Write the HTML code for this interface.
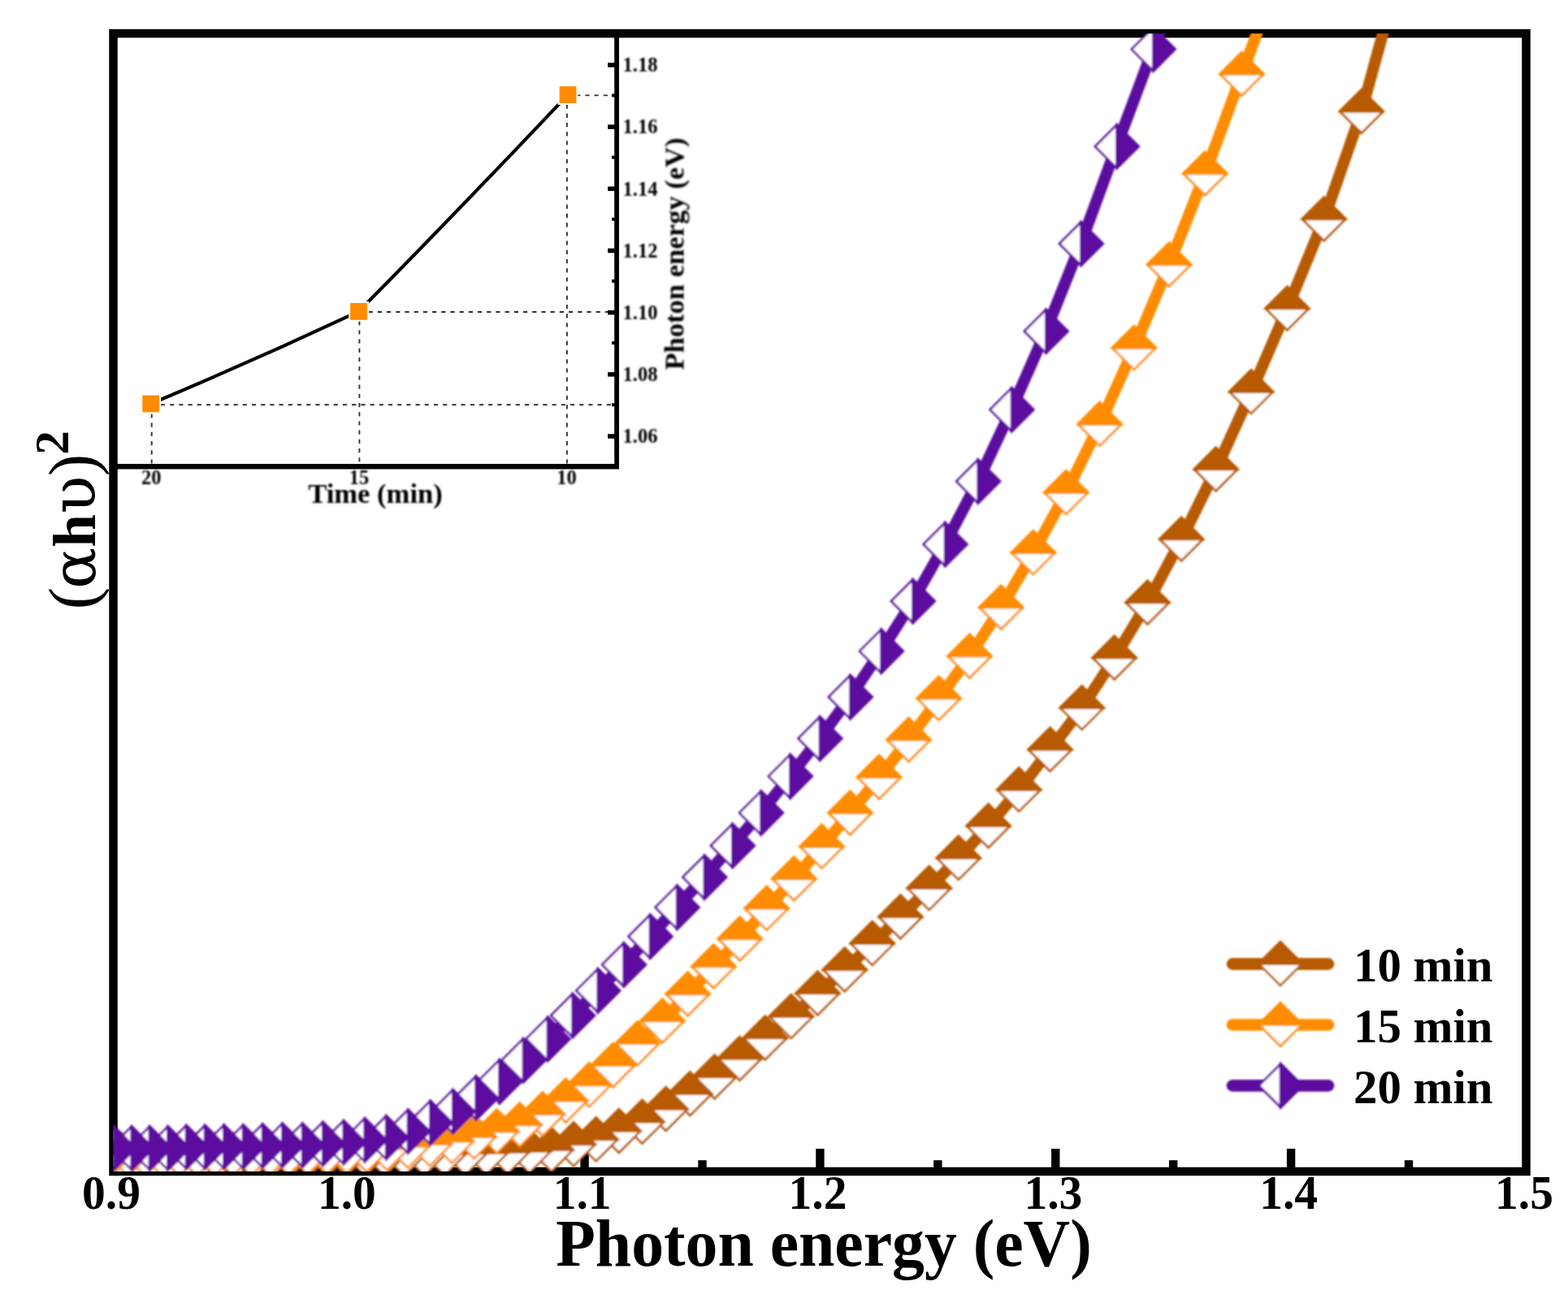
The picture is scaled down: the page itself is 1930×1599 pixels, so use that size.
<!DOCTYPE html>
<html lang="en"><head><meta charset="utf-8"><title>Tauc plot</title>
<style>
html,body{margin:0;padding:0;background:#fff}
body{width:1930px;height:1599px;overflow:hidden}
svg{display:block}
.t text{font-family:"Liberation Serif","DejaVu Serif",serif;font-weight:700;fill:#000}
</style></head><body>
<svg width="1930" height="1599" viewBox="0 0 1930 1599" role="img" aria-label="Tauc plot">
<defs>
<clipPath id="c"><rect x="139.5" y="41.2" width="1739.0" height="1400.8"/></clipPath>
<filter id="b1" x="0" y="0" width="1930" height="1599" filterUnits="userSpaceOnUse"><feGaussianBlur stdDeviation="1.0"/></filter>
<filter id="b2" x="0" y="0" width="1930" height="1599" filterUnits="userSpaceOnUse"><feGaussianBlur stdDeviation="0.7"/></filter>
<filter id="b3" x="0" y="0" width="900" height="700" filterUnits="userSpaceOnUse"><feGaussianBlur stdDeviation="0.9"/></filter>
</defs>
<rect width="1930" height="1599" fill="#fff"/>
<g id="axes" filter="url(#b2)">
<rect x="139.5" y="41.2" width="1739.0" height="1400.8" fill="none" stroke="#000" stroke-width="10.5"/>
<path d="M186.7 498.2V574.2" stroke="#333" stroke-width="1.9" stroke-dasharray="5.2 6" fill="none"/>
<path d="M186.7 498.2H759.1" stroke="#333" stroke-width="1.9" stroke-dasharray="5.2 6" fill="none"/>
<path d="M442.4 384V574.2" stroke="#333" stroke-width="1.9" stroke-dasharray="5.2 6" fill="none"/>
<path d="M442.4 384H759.1" stroke="#333" stroke-width="1.9" stroke-dasharray="5.2 6" fill="none"/>
<path d="M697.9 117.4V574.2" stroke="#333" stroke-width="1.9" stroke-dasharray="5.2 6" fill="none"/>
<path d="M697.9 117.4H759.1" stroke="#333" stroke-width="1.9" stroke-dasharray="5.2 6" fill="none"/>
<path d="M185.7 497.0Q314.8 442.9 441.5 383.4Q571.7 251.4 699.0 116.6" fill="none" stroke="#000" stroke-width="4.2"/>
<rect x="173.3" y="484.6" width="24.8" height="24.8" fill="#fff"/>
<rect x="175.3" y="486.6" width="20.8" height="20.8" fill="#FF8C00"/>
<rect x="429.1" y="371" width="24.8" height="24.8" fill="#fff"/>
<rect x="431.1" y="373" width="20.8" height="20.8" fill="#FF8C00"/>
<rect x="686.6" y="104.2" width="24.8" height="24.8" fill="#fff"/>
<rect x="688.6" y="106.2" width="20.8" height="20.8" fill="#FF8C00"/>
<path d="M139.5 574.2H762" stroke="#000" stroke-width="6.6" fill="none"/>
<path d="M759.1 41.2V577.1" stroke="#000" stroke-width="5.8" fill="none"/>
<path d="M748.1 537.02H759.1" stroke="#000" stroke-width="5.5"/>
<path d="M748.1 460.85H759.1" stroke="#000" stroke-width="5.5"/>
<path d="M748.1 384.68H759.1" stroke="#000" stroke-width="5.5"/>
<path d="M748.1 308.51H759.1" stroke="#000" stroke-width="5.5"/>
<path d="M748.1 232.34H759.1" stroke="#000" stroke-width="5.5"/>
<path d="M748.1 156.17H759.1" stroke="#000" stroke-width="5.5"/>
<path d="M748.1 80H759.1" stroke="#000" stroke-width="5.5"/>
<path d="M753.1 574.5H759.1" stroke="#000" stroke-width="4"/>
<path d="M753.1 498.33H759.1" stroke="#000" stroke-width="4"/>
<path d="M753.1 422.16H759.1" stroke="#000" stroke-width="4"/>
<path d="M753.1 345.99H759.1" stroke="#000" stroke-width="4"/>
<path d="M753.1 269.82H759.1" stroke="#000" stroke-width="4"/>
<path d="M753.1 193.65H759.1" stroke="#000" stroke-width="4"/>
<path d="M753.1 117.49H759.1" stroke="#000" stroke-width="4"/>
<path d="M429.73 1442.0V1414" stroke="#000" stroke-width="10.4"/>
<path d="M719.57 1442.0V1414" stroke="#000" stroke-width="10.4"/>
<path d="M1009.4 1442.0V1414" stroke="#000" stroke-width="10.4"/>
<path d="M1299.23 1442.0V1414" stroke="#000" stroke-width="10.4"/>
<path d="M1589.07 1442.0V1414" stroke="#000" stroke-width="10.4"/>
<path d="M284.82 1442.0V1428.2" stroke="#000" stroke-width="10.4"/>
<path d="M574.65 1442.0V1428.2" stroke="#000" stroke-width="10.4"/>
<path d="M864.48 1442.0V1428.2" stroke="#000" stroke-width="10.4"/>
<path d="M1154.32 1442.0V1428.2" stroke="#000" stroke-width="10.4"/>
<path d="M1444.15 1442.0V1428.2" stroke="#000" stroke-width="10.4"/>
<path d="M1733.98 1442.0V1428.2" stroke="#000" stroke-width="10.4"/>
</g>
<g id="curves" clip-path="url(#c)" filter="url(#b1)">
<polyline fill="none" stroke="#B85A00" stroke-width="14.2" stroke-linejoin="round" points="90.12,1421.5 109.76,1421.5 129.39,1421.5 149.08,1421.5 168.89,1421.5 188.92,1421.49 209.15,1421.49 229.62,1421.49 250.34,1421.49 271.3,1421.48 292.54,1421.47 314.05,1421.46 335.86,1421.45 357.97,1421.42 380.4,1421.39 403.16,1421.35 426.26,1421.29 449.71,1421.21 473.54,1421.1 497.74,1420.94 522.33,1420.72 547.33,1420.4 572.74,1419.97 598.59,1419.37 624.87,1418.52 651.61,1417.34 678.82,1415.7 706.02,1408.9 733.68,1402.9 761.83,1392.5 790.47,1381.2 819.62,1365.5 849.31,1346.7 879.56,1326 910.38,1303.5 941.79,1278 973.81,1251.6 1006.46,1223 1039.75,1194 1073.72,1161.6 1108.36,1129 1143.72,1093.6 1179.79,1056.4 1216.6,1017 1254.18,972.4 1292.53,923 1331.68,871.6 1371.64,810 1412.44,742 1454.1,664 1496.62,578 1540.04,482.6 1584.36,380 1629.61,270 1675.81,137.5 1726,-46"/>
<path d="M1649.51 137.5L1675.81 111.2L1702.11 137.5L1675.81 163.8Z" fill="#fff" stroke="#B85A00" stroke-width="2.7"/><path d="M1646.51 137.5L1675.81 108.2L1705.11 137.5L1703.81 138.8H1647.81Z" fill="#B85A00"/>
<path d="M1603.31 270L1629.61 243.7L1655.91 270L1629.61 296.3Z" fill="#fff" stroke="#B85A00" stroke-width="2.7"/><path d="M1600.31 270L1629.61 240.7L1658.91 270L1657.61 271.3H1601.61Z" fill="#B85A00"/>
<path d="M1558.06 380L1584.36 353.7L1610.66 380L1584.36 406.3Z" fill="#fff" stroke="#B85A00" stroke-width="2.7"/><path d="M1555.06 380L1584.36 350.7L1613.66 380L1612.36 381.3H1556.36Z" fill="#B85A00"/>
<path d="M1513.74 482.6L1540.04 456.3L1566.34 482.6L1540.04 508.9Z" fill="#fff" stroke="#B85A00" stroke-width="2.7"/><path d="M1510.74 482.6L1540.04 453.3L1569.34 482.6L1568.04 483.9H1512.04Z" fill="#B85A00"/>
<path d="M1470.32 578L1496.62 551.7L1522.92 578L1496.62 604.3Z" fill="#fff" stroke="#B85A00" stroke-width="2.7"/><path d="M1467.32 578L1496.62 548.7L1525.92 578L1524.62 579.3H1468.62Z" fill="#B85A00"/>
<path d="M1427.8 664L1454.1 637.7L1480.4 664L1454.1 690.3Z" fill="#fff" stroke="#B85A00" stroke-width="2.7"/><path d="M1424.8 664L1454.1 634.7L1483.4 664L1482.1 665.3H1426.1Z" fill="#B85A00"/>
<path d="M1386.14 742L1412.44 715.7L1438.74 742L1412.44 768.3Z" fill="#fff" stroke="#B85A00" stroke-width="2.7"/><path d="M1383.14 742L1412.44 712.7L1441.74 742L1440.44 743.3H1384.44Z" fill="#B85A00"/>
<path d="M1345.34 810L1371.64 783.7L1397.94 810L1371.64 836.3Z" fill="#fff" stroke="#B85A00" stroke-width="2.7"/><path d="M1342.34 810L1371.64 780.7L1400.94 810L1399.64 811.3H1343.64Z" fill="#B85A00"/>
<path d="M1305.38 871.6L1331.68 845.3L1357.98 871.6L1331.68 897.9Z" fill="#fff" stroke="#B85A00" stroke-width="2.7"/><path d="M1302.38 871.6L1331.68 842.3L1360.98 871.6L1359.68 872.9H1303.68Z" fill="#B85A00"/>
<path d="M1266.23 923L1292.53 896.7L1318.83 923L1292.53 949.3Z" fill="#fff" stroke="#B85A00" stroke-width="2.7"/><path d="M1263.23 923L1292.53 893.7L1321.83 923L1320.53 924.3H1264.53Z" fill="#B85A00"/>
<path d="M1227.88 972.4L1254.18 946.1L1280.48 972.4L1254.18 998.7Z" fill="#fff" stroke="#B85A00" stroke-width="2.7"/><path d="M1224.88 972.4L1254.18 943.1L1283.48 972.4L1282.18 973.7H1226.18Z" fill="#B85A00"/>
<path d="M1190.3 1017L1216.6 990.7L1242.9 1017L1216.6 1043.3Z" fill="#fff" stroke="#B85A00" stroke-width="2.7"/><path d="M1187.3 1017L1216.6 987.7L1245.9 1017L1244.6 1018.3H1188.6Z" fill="#B85A00"/>
<path d="M1153.49 1056.4L1179.79 1030.1L1206.09 1056.4L1179.79 1082.7Z" fill="#fff" stroke="#B85A00" stroke-width="2.7"/><path d="M1150.49 1056.4L1179.79 1027.1L1209.09 1056.4L1207.79 1057.7H1151.79Z" fill="#B85A00"/>
<path d="M1117.42 1093.6L1143.72 1067.3L1170.02 1093.6L1143.72 1119.9Z" fill="#fff" stroke="#B85A00" stroke-width="2.7"/><path d="M1114.42 1093.6L1143.72 1064.3L1173.02 1093.6L1171.72 1094.9H1115.72Z" fill="#B85A00"/>
<path d="M1082.06 1129L1108.36 1102.7L1134.66 1129L1108.36 1155.3Z" fill="#fff" stroke="#B85A00" stroke-width="2.7"/><path d="M1079.06 1129L1108.36 1099.7L1137.66 1129L1136.36 1130.3H1080.36Z" fill="#B85A00"/>
<path d="M1047.42 1161.6L1073.72 1135.3L1100.02 1161.6L1073.72 1187.9Z" fill="#fff" stroke="#B85A00" stroke-width="2.7"/><path d="M1044.42 1161.6L1073.72 1132.3L1103.02 1161.6L1101.72 1162.9H1045.72Z" fill="#B85A00"/>
<path d="M1013.45 1194L1039.75 1167.7L1066.05 1194L1039.75 1220.3Z" fill="#fff" stroke="#B85A00" stroke-width="2.7"/><path d="M1010.45 1194L1039.75 1164.7L1069.05 1194L1067.75 1195.3H1011.75Z" fill="#B85A00"/>
<path d="M980.16 1223L1006.46 1196.7L1032.76 1223L1006.46 1249.3Z" fill="#fff" stroke="#B85A00" stroke-width="2.7"/><path d="M977.16 1223L1006.46 1193.7L1035.76 1223L1034.46 1224.3H978.46Z" fill="#B85A00"/>
<path d="M947.51 1251.6L973.81 1225.3L1000.11 1251.6L973.81 1277.9Z" fill="#fff" stroke="#B85A00" stroke-width="2.7"/><path d="M944.51 1251.6L973.81 1222.3L1003.11 1251.6L1001.81 1252.9H945.81Z" fill="#B85A00"/>
<path d="M915.49 1278L941.79 1251.7L968.09 1278L941.79 1304.3Z" fill="#fff" stroke="#B85A00" stroke-width="2.7"/><path d="M912.49 1278L941.79 1248.7L971.09 1278L969.79 1279.3H913.79Z" fill="#B85A00"/>
<path d="M884.08 1303.5L910.38 1277.2L936.68 1303.5L910.38 1329.8Z" fill="#fff" stroke="#B85A00" stroke-width="2.7"/><path d="M881.08 1303.5L910.38 1274.2L939.68 1303.5L938.38 1304.8H882.38Z" fill="#B85A00"/>
<path d="M853.26 1326L879.56 1299.7L905.86 1326L879.56 1352.3Z" fill="#fff" stroke="#B85A00" stroke-width="2.7"/><path d="M850.26 1326L879.56 1296.7L908.86 1326L907.56 1327.3H851.56Z" fill="#B85A00"/>
<path d="M823.01 1346.7L849.31 1320.4L875.61 1346.7L849.31 1373Z" fill="#fff" stroke="#B85A00" stroke-width="2.7"/><path d="M820.01 1346.7L849.31 1317.4L878.61 1346.7L877.31 1348H821.31Z" fill="#B85A00"/>
<path d="M793.32 1365.5L819.62 1339.2L845.92 1365.5L819.62 1391.8Z" fill="#fff" stroke="#B85A00" stroke-width="2.7"/><path d="M790.32 1365.5L819.62 1336.2L848.92 1365.5L847.62 1366.8H791.62Z" fill="#B85A00"/>
<path d="M764.17 1381.2L790.47 1354.9L816.77 1381.2L790.47 1407.5Z" fill="#fff" stroke="#B85A00" stroke-width="2.7"/><path d="M761.17 1381.2L790.47 1351.9L819.77 1381.2L818.47 1382.5H762.47Z" fill="#B85A00"/>
<path d="M735.53 1392.5L761.83 1366.2L788.13 1392.5L761.83 1418.8Z" fill="#fff" stroke="#B85A00" stroke-width="2.7"/><path d="M732.53 1392.5L761.83 1363.2L791.13 1392.5L789.83 1393.8H733.83Z" fill="#B85A00"/>
<path d="M707.38 1402.9L733.68 1376.6L759.98 1402.9L733.68 1429.2Z" fill="#fff" stroke="#B85A00" stroke-width="2.7"/><path d="M704.38 1402.9L733.68 1373.6L762.98 1402.9L761.68 1404.2H705.68Z" fill="#B85A00"/>
<path d="M679.72 1408.9L706.02 1382.6L732.32 1408.9L706.02 1435.2Z" fill="#fff" stroke="#B85A00" stroke-width="2.7"/><path d="M676.72 1408.9L706.02 1379.6L735.32 1408.9L734.02 1410.2H678.02Z" fill="#B85A00"/>
<path d="M652.52 1415.7L678.82 1389.4L705.12 1415.7L678.82 1442Z" fill="#fff" stroke="#B85A00" stroke-width="2.7"/><path d="M649.52 1415.7L678.82 1386.4L708.12 1415.7L706.82 1417H650.82Z" fill="#B85A00"/>
<path d="M625.31 1417.34L651.61 1391.04L677.91 1417.34L651.61 1443.64Z" fill="#fff" stroke="#B85A00" stroke-width="2.7"/><path d="M622.31 1417.34L651.61 1388.04L680.91 1417.34L679.61 1418.64H623.61Z" fill="#B85A00"/>
<path d="M598.57 1418.52L624.87 1392.22L651.17 1418.52L624.87 1444.82Z" fill="#fff" stroke="#B85A00" stroke-width="2.7"/><path d="M595.57 1418.52L624.87 1389.22L654.17 1418.52L652.87 1419.82H596.87Z" fill="#B85A00"/>
<path d="M572.29 1419.37L598.59 1393.07L624.89 1419.37L598.59 1445.67Z" fill="#fff" stroke="#B85A00" stroke-width="2.7"/><path d="M569.29 1419.37L598.59 1390.07L627.89 1419.37L626.59 1420.67H570.59Z" fill="#B85A00"/>
<path d="M546.44 1419.97L572.74 1393.67L599.04 1419.97L572.74 1446.27Z" fill="#fff" stroke="#B85A00" stroke-width="2.7"/><path d="M543.44 1419.97L572.74 1390.67L602.04 1419.97L600.74 1421.27H544.74Z" fill="#B85A00"/>
<path d="M521.03 1420.4L547.33 1394.1L573.63 1420.4L547.33 1446.7Z" fill="#fff" stroke="#B85A00" stroke-width="2.7"/><path d="M518.03 1420.4L547.33 1391.1L576.63 1420.4L575.33 1421.7H519.33Z" fill="#B85A00"/>
<path d="M496.03 1420.72L522.33 1394.42L548.63 1420.72L522.33 1447.02Z" fill="#fff" stroke="#B85A00" stroke-width="2.7"/><path d="M493.03 1420.72L522.33 1391.42L551.63 1420.72L550.33 1422.02H494.33Z" fill="#B85A00"/>
<path d="M471.44 1420.94L497.74 1394.64L524.04 1420.94L497.74 1447.24Z" fill="#fff" stroke="#B85A00" stroke-width="2.7"/><path d="M468.44 1420.94L497.74 1391.64L527.04 1420.94L525.74 1422.24H469.74Z" fill="#B85A00"/>
<path d="M447.24 1421.1L473.54 1394.8L499.84 1421.1L473.54 1447.4Z" fill="#fff" stroke="#B85A00" stroke-width="2.7"/><path d="M444.24 1421.1L473.54 1391.8L502.84 1421.1L501.54 1422.4H445.54Z" fill="#B85A00"/>
<path d="M423.41 1421.21L449.71 1394.91L476.01 1421.21L449.71 1447.51Z" fill="#fff" stroke="#B85A00" stroke-width="2.7"/><path d="M420.41 1421.21L449.71 1391.91L479.01 1421.21L477.71 1422.51H421.71Z" fill="#B85A00"/>
<path d="M399.96 1421.29L426.26 1394.99L452.56 1421.29L426.26 1447.59Z" fill="#fff" stroke="#B85A00" stroke-width="2.7"/><path d="M396.96 1421.29L426.26 1391.99L455.56 1421.29L454.26 1422.59H398.26Z" fill="#B85A00"/>
<path d="M376.86 1421.35L403.16 1395.05L429.46 1421.35L403.16 1447.65Z" fill="#fff" stroke="#B85A00" stroke-width="2.7"/><path d="M373.86 1421.35L403.16 1392.05L432.46 1421.35L431.16 1422.65H375.16Z" fill="#B85A00"/>
<path d="M354.1 1421.39L380.4 1395.09L406.7 1421.39L380.4 1447.69Z" fill="#fff" stroke="#B85A00" stroke-width="2.7"/><path d="M351.1 1421.39L380.4 1392.09L409.7 1421.39L408.4 1422.69H352.4Z" fill="#B85A00"/>
<path d="M331.67 1421.42L357.97 1395.12L384.27 1421.42L357.97 1447.72Z" fill="#fff" stroke="#B85A00" stroke-width="2.7"/><path d="M328.67 1421.42L357.97 1392.12L387.27 1421.42L385.97 1422.72H329.97Z" fill="#B85A00"/>
<path d="M309.56 1421.45L335.86 1395.15L362.16 1421.45L335.86 1447.75Z" fill="#fff" stroke="#B85A00" stroke-width="2.7"/><path d="M306.56 1421.45L335.86 1392.15L365.16 1421.45L363.86 1422.75H307.86Z" fill="#B85A00"/>
<path d="M287.75 1421.46L314.05 1395.16L340.35 1421.46L314.05 1447.76Z" fill="#fff" stroke="#B85A00" stroke-width="2.7"/><path d="M284.75 1421.46L314.05 1392.16L343.35 1421.46L342.05 1422.76H286.05Z" fill="#B85A00"/>
<path d="M266.24 1421.47L292.54 1395.17L318.84 1421.47L292.54 1447.77Z" fill="#fff" stroke="#B85A00" stroke-width="2.7"/><path d="M263.24 1421.47L292.54 1392.17L321.84 1421.47L320.54 1422.77H264.54Z" fill="#B85A00"/>
<path d="M245 1421.48L271.3 1395.18L297.6 1421.48L271.3 1447.78Z" fill="#fff" stroke="#B85A00" stroke-width="2.7"/><path d="M242 1421.48L271.3 1392.18L300.6 1421.48L299.3 1422.78H243.3Z" fill="#B85A00"/>
<path d="M224.04 1421.49L250.34 1395.19L276.64 1421.49L250.34 1447.79Z" fill="#fff" stroke="#B85A00" stroke-width="2.7"/><path d="M221.04 1421.49L250.34 1392.19L279.64 1421.49L278.34 1422.79H222.34Z" fill="#B85A00"/>
<path d="M203.32 1421.49L229.62 1395.19L255.92 1421.49L229.62 1447.79Z" fill="#fff" stroke="#B85A00" stroke-width="2.7"/><path d="M200.32 1421.49L229.62 1392.19L258.92 1421.49L257.62 1422.79H201.62Z" fill="#B85A00"/>
<path d="M182.85 1421.49L209.15 1395.19L235.45 1421.49L209.15 1447.79Z" fill="#fff" stroke="#B85A00" stroke-width="2.7"/><path d="M179.85 1421.49L209.15 1392.19L238.45 1421.49L237.15 1422.79H181.15Z" fill="#B85A00"/>
<path d="M162.62 1421.49L188.92 1395.19L215.22 1421.49L188.92 1447.79Z" fill="#fff" stroke="#B85A00" stroke-width="2.7"/><path d="M159.62 1421.49L188.92 1392.19L218.22 1421.49L216.92 1422.79H160.92Z" fill="#B85A00"/>
<path d="M142.59 1421.5L168.89 1395.2L195.19 1421.5L168.89 1447.8Z" fill="#fff" stroke="#B85A00" stroke-width="2.7"/><path d="M139.59 1421.5L168.89 1392.2L198.19 1421.5L196.89 1422.8H140.89Z" fill="#B85A00"/>
<path d="M122.78 1421.5L149.08 1395.2L175.38 1421.5L149.08 1447.8Z" fill="#fff" stroke="#B85A00" stroke-width="2.7"/><path d="M119.78 1421.5L149.08 1392.2L178.38 1421.5L177.08 1422.8H121.08Z" fill="#B85A00"/>
<path d="M103.09 1421.5L129.39 1395.2L155.69 1421.5L129.39 1447.8Z" fill="#fff" stroke="#B85A00" stroke-width="2.7"/><path d="M100.09 1421.5L129.39 1392.2L158.69 1421.5L157.39 1422.8H101.39Z" fill="#B85A00"/>
<path d="M83.46 1421.5L109.76 1395.2L136.06 1421.5L109.76 1447.8Z" fill="#fff" stroke="#B85A00" stroke-width="2.7"/><path d="M80.46 1421.5L109.76 1392.2L139.06 1421.5L137.76 1422.8H81.76Z" fill="#B85A00"/>
<path d="M63.82 1421.5L90.12 1395.2L116.42 1421.5L90.12 1447.8Z" fill="#fff" stroke="#B85A00" stroke-width="2.7"/><path d="M60.82 1421.5L90.12 1392.2L119.42 1421.5L118.12 1422.8H62.12Z" fill="#B85A00"/>
<polyline fill="none" stroke="#FF8C00" stroke-width="14.2" stroke-linejoin="round" points="95.63,1421.28 116.25,1421.27 136.87,1421.25 157.58,1421.23 178.48,1421.21 199.6,1421.17 220.98,1421.12 242.62,1421.04 264.53,1420.94 286.73,1420.8 309.23,1420.61 332.06,1420.33 355.21,1419.95 378.72,1419.41 402.58,1418.66 426.83,1417.62 451.46,1416.17 476.5,1414.13 501.96,1411.3 528.94,1408.8 556.19,1405.3 583.7,1399.8 611.53,1393.1 639.69,1385 667.94,1371.78 696.37,1355.27 725.2,1335.86 754.47,1311.74 784.6,1284.8 815.32,1257 846.56,1224 878.34,1190 910.7,1156 943.66,1118.4 977.25,1082 1011.49,1042.4 1046.42,1001 1082.05,957 1118.42,911 1155.55,860 1193.47,808 1232.21,748 1271.79,680.6 1312.23,606.6 1353.58,522.4 1395.85,428.6 1439.07,326 1483.27,214 1528.47,91.5 1578,-43"/>
<path d="M1502.17 91.5L1528.47 65.2L1554.77 91.5L1528.47 117.8Z" fill="#fff" stroke="#FF8C00" stroke-width="2.7"/><path d="M1499.17 91.5L1528.47 62.2L1557.77 91.5L1556.47 92.8H1500.47Z" fill="#FF8C00"/>
<path d="M1456.97 214L1483.27 187.7L1509.57 214L1483.27 240.3Z" fill="#fff" stroke="#FF8C00" stroke-width="2.7"/><path d="M1453.97 214L1483.27 184.7L1512.57 214L1511.27 215.3H1455.27Z" fill="#FF8C00"/>
<path d="M1412.77 326L1439.07 299.7L1465.37 326L1439.07 352.3Z" fill="#fff" stroke="#FF8C00" stroke-width="2.7"/><path d="M1409.77 326L1439.07 296.7L1468.37 326L1467.07 327.3H1411.07Z" fill="#FF8C00"/>
<path d="M1369.55 428.6L1395.85 402.3L1422.15 428.6L1395.85 454.9Z" fill="#fff" stroke="#FF8C00" stroke-width="2.7"/><path d="M1366.55 428.6L1395.85 399.3L1425.15 428.6L1423.85 429.9H1367.85Z" fill="#FF8C00"/>
<path d="M1327.28 522.4L1353.58 496.1L1379.88 522.4L1353.58 548.7Z" fill="#fff" stroke="#FF8C00" stroke-width="2.7"/><path d="M1324.28 522.4L1353.58 493.1L1382.88 522.4L1381.58 523.7H1325.58Z" fill="#FF8C00"/>
<path d="M1285.93 606.6L1312.23 580.3L1338.53 606.6L1312.23 632.9Z" fill="#fff" stroke="#FF8C00" stroke-width="2.7"/><path d="M1282.93 606.6L1312.23 577.3L1341.53 606.6L1340.23 607.9H1284.23Z" fill="#FF8C00"/>
<path d="M1245.49 680.6L1271.79 654.3L1298.09 680.6L1271.79 706.9Z" fill="#fff" stroke="#FF8C00" stroke-width="2.7"/><path d="M1242.49 680.6L1271.79 651.3L1301.09 680.6L1299.79 681.9H1243.79Z" fill="#FF8C00"/>
<path d="M1205.91 748L1232.21 721.7L1258.51 748L1232.21 774.3Z" fill="#fff" stroke="#FF8C00" stroke-width="2.7"/><path d="M1202.91 748L1232.21 718.7L1261.51 748L1260.21 749.3H1204.21Z" fill="#FF8C00"/>
<path d="M1167.17 808L1193.47 781.7L1219.77 808L1193.47 834.3Z" fill="#fff" stroke="#FF8C00" stroke-width="2.7"/><path d="M1164.17 808L1193.47 778.7L1222.77 808L1221.47 809.3H1165.47Z" fill="#FF8C00"/>
<path d="M1129.25 860L1155.55 833.7L1181.85 860L1155.55 886.3Z" fill="#fff" stroke="#FF8C00" stroke-width="2.7"/><path d="M1126.25 860L1155.55 830.7L1184.85 860L1183.55 861.3H1127.55Z" fill="#FF8C00"/>
<path d="M1092.12 911L1118.42 884.7L1144.72 911L1118.42 937.3Z" fill="#fff" stroke="#FF8C00" stroke-width="2.7"/><path d="M1089.12 911L1118.42 881.7L1147.72 911L1146.42 912.3H1090.42Z" fill="#FF8C00"/>
<path d="M1055.75 957L1082.05 930.7L1108.35 957L1082.05 983.3Z" fill="#fff" stroke="#FF8C00" stroke-width="2.7"/><path d="M1052.75 957L1082.05 927.7L1111.35 957L1110.05 958.3H1054.05Z" fill="#FF8C00"/>
<path d="M1020.12 1001L1046.42 974.7L1072.72 1001L1046.42 1027.3Z" fill="#fff" stroke="#FF8C00" stroke-width="2.7"/><path d="M1017.12 1001L1046.42 971.7L1075.72 1001L1074.42 1002.3H1018.42Z" fill="#FF8C00"/>
<path d="M985.19 1042.4L1011.49 1016.1L1037.79 1042.4L1011.49 1068.7Z" fill="#fff" stroke="#FF8C00" stroke-width="2.7"/><path d="M982.19 1042.4L1011.49 1013.1L1040.79 1042.4L1039.49 1043.7H983.49Z" fill="#FF8C00"/>
<path d="M950.95 1082L977.25 1055.7L1003.55 1082L977.25 1108.3Z" fill="#fff" stroke="#FF8C00" stroke-width="2.7"/><path d="M947.95 1082L977.25 1052.7L1006.55 1082L1005.25 1083.3H949.25Z" fill="#FF8C00"/>
<path d="M917.36 1118.4L943.66 1092.1L969.96 1118.4L943.66 1144.7Z" fill="#fff" stroke="#FF8C00" stroke-width="2.7"/><path d="M914.36 1118.4L943.66 1089.1L972.96 1118.4L971.66 1119.7H915.66Z" fill="#FF8C00"/>
<path d="M884.4 1156L910.7 1129.7L937 1156L910.7 1182.3Z" fill="#fff" stroke="#FF8C00" stroke-width="2.7"/><path d="M881.4 1156L910.7 1126.7L940 1156L938.7 1157.3H882.7Z" fill="#FF8C00"/>
<path d="M852.04 1190L878.34 1163.7L904.64 1190L878.34 1216.3Z" fill="#fff" stroke="#FF8C00" stroke-width="2.7"/><path d="M849.04 1190L878.34 1160.7L907.64 1190L906.34 1191.3H850.34Z" fill="#FF8C00"/>
<path d="M820.26 1224L846.56 1197.7L872.86 1224L846.56 1250.3Z" fill="#fff" stroke="#FF8C00" stroke-width="2.7"/><path d="M817.26 1224L846.56 1194.7L875.86 1224L874.56 1225.3H818.56Z" fill="#FF8C00"/>
<path d="M789.02 1257L815.32 1230.7L841.62 1257L815.32 1283.3Z" fill="#fff" stroke="#FF8C00" stroke-width="2.7"/><path d="M786.02 1257L815.32 1227.7L844.62 1257L843.32 1258.3H787.32Z" fill="#FF8C00"/>
<path d="M758.3 1284.8L784.6 1258.5L810.9 1284.8L784.6 1311.1Z" fill="#fff" stroke="#FF8C00" stroke-width="2.7"/><path d="M755.3 1284.8L784.6 1255.5L813.9 1284.8L812.6 1286.1H756.6Z" fill="#FF8C00"/>
<path d="M728.17 1311.74L754.47 1285.44L780.77 1311.74L754.47 1338.04Z" fill="#fff" stroke="#FF8C00" stroke-width="2.7"/><path d="M725.17 1311.74L754.47 1282.44L783.77 1311.74L782.47 1313.04H726.47Z" fill="#FF8C00"/>
<path d="M698.9 1335.86L725.2 1309.56L751.5 1335.86L725.2 1362.16Z" fill="#fff" stroke="#FF8C00" stroke-width="2.7"/><path d="M695.9 1335.86L725.2 1306.56L754.5 1335.86L753.2 1337.16H697.2Z" fill="#FF8C00"/>
<path d="M670.07 1355.27L696.37 1328.97L722.67 1355.27L696.37 1381.57Z" fill="#fff" stroke="#FF8C00" stroke-width="2.7"/><path d="M667.07 1355.27L696.37 1325.97L725.67 1355.27L724.37 1356.57H668.37Z" fill="#FF8C00"/>
<path d="M641.64 1371.78L667.94 1345.48L694.24 1371.78L667.94 1398.08Z" fill="#fff" stroke="#FF8C00" stroke-width="2.7"/><path d="M638.64 1371.78L667.94 1342.48L697.24 1371.78L695.94 1373.08H639.94Z" fill="#FF8C00"/>
<path d="M613.39 1385L639.69 1358.7L665.99 1385L639.69 1411.3Z" fill="#fff" stroke="#FF8C00" stroke-width="2.7"/><path d="M610.39 1385L639.69 1355.7L668.99 1385L667.69 1386.3H611.69Z" fill="#FF8C00"/>
<path d="M585.23 1393.1L611.53 1366.8L637.83 1393.1L611.53 1419.4Z" fill="#fff" stroke="#FF8C00" stroke-width="2.7"/><path d="M582.23 1393.1L611.53 1363.8L640.83 1393.1L639.53 1394.4H583.53Z" fill="#FF8C00"/>
<path d="M557.4 1399.8L583.7 1373.5L610 1399.8L583.7 1426.1Z" fill="#fff" stroke="#FF8C00" stroke-width="2.7"/><path d="M554.4 1399.8L583.7 1370.5L613 1399.8L611.7 1401.1H555.7Z" fill="#FF8C00"/>
<path d="M529.89 1405.3L556.19 1379L582.49 1405.3L556.19 1431.6Z" fill="#fff" stroke="#FF8C00" stroke-width="2.7"/><path d="M526.89 1405.3L556.19 1376L585.49 1405.3L584.19 1406.6H528.19Z" fill="#FF8C00"/>
<path d="M502.64 1408.8L528.94 1382.5L555.24 1408.8L528.94 1435.1Z" fill="#fff" stroke="#FF8C00" stroke-width="2.7"/><path d="M499.64 1408.8L528.94 1379.5L558.24 1408.8L556.94 1410.1H500.94Z" fill="#FF8C00"/>
<path d="M475.66 1411.3L501.96 1385L528.26 1411.3L501.96 1437.6Z" fill="#fff" stroke="#FF8C00" stroke-width="2.7"/><path d="M472.66 1411.3L501.96 1382L531.26 1411.3L529.96 1412.6H473.96Z" fill="#FF8C00"/>
<path d="M450.2 1414.13L476.5 1387.83L502.8 1414.13L476.5 1440.43Z" fill="#fff" stroke="#FF8C00" stroke-width="2.7"/><path d="M447.2 1414.13L476.5 1384.83L505.8 1414.13L504.5 1415.43H448.5Z" fill="#FF8C00"/>
<path d="M425.16 1416.17L451.46 1389.87L477.76 1416.17L451.46 1442.47Z" fill="#fff" stroke="#FF8C00" stroke-width="2.7"/><path d="M422.16 1416.17L451.46 1386.87L480.76 1416.17L479.46 1417.47H423.46Z" fill="#FF8C00"/>
<path d="M400.53 1417.62L426.83 1391.32L453.13 1417.62L426.83 1443.92Z" fill="#fff" stroke="#FF8C00" stroke-width="2.7"/><path d="M397.53 1417.62L426.83 1388.32L456.13 1417.62L454.83 1418.92H398.83Z" fill="#FF8C00"/>
<path d="M376.28 1418.66L402.58 1392.36L428.88 1418.66L402.58 1444.96Z" fill="#fff" stroke="#FF8C00" stroke-width="2.7"/><path d="M373.28 1418.66L402.58 1389.36L431.88 1418.66L430.58 1419.96H374.58Z" fill="#FF8C00"/>
<path d="M352.42 1419.41L378.72 1393.11L405.02 1419.41L378.72 1445.71Z" fill="#fff" stroke="#FF8C00" stroke-width="2.7"/><path d="M349.42 1419.41L378.72 1390.11L408.02 1419.41L406.72 1420.71H350.72Z" fill="#FF8C00"/>
<path d="M328.91 1419.95L355.21 1393.65L381.51 1419.95L355.21 1446.25Z" fill="#fff" stroke="#FF8C00" stroke-width="2.7"/><path d="M325.91 1419.95L355.21 1390.65L384.51 1419.95L383.21 1421.25H327.21Z" fill="#FF8C00"/>
<path d="M305.76 1420.33L332.06 1394.03L358.36 1420.33L332.06 1446.63Z" fill="#fff" stroke="#FF8C00" stroke-width="2.7"/><path d="M302.76 1420.33L332.06 1391.03L361.36 1420.33L360.06 1421.63H304.06Z" fill="#FF8C00"/>
<path d="M282.93 1420.61L309.23 1394.31L335.53 1420.61L309.23 1446.91Z" fill="#fff" stroke="#FF8C00" stroke-width="2.7"/><path d="M279.93 1420.61L309.23 1391.31L338.53 1420.61L337.23 1421.91H281.23Z" fill="#FF8C00"/>
<path d="M260.43 1420.8L286.73 1394.5L313.03 1420.8L286.73 1447.1Z" fill="#fff" stroke="#FF8C00" stroke-width="2.7"/><path d="M257.43 1420.8L286.73 1391.5L316.03 1420.8L314.73 1422.1H258.73Z" fill="#FF8C00"/>
<path d="M238.23 1420.94L264.53 1394.64L290.83 1420.94L264.53 1447.24Z" fill="#fff" stroke="#FF8C00" stroke-width="2.7"/><path d="M235.23 1420.94L264.53 1391.64L293.83 1420.94L292.53 1422.24H236.53Z" fill="#FF8C00"/>
<path d="M216.32 1421.04L242.62 1394.74L268.92 1421.04L242.62 1447.34Z" fill="#fff" stroke="#FF8C00" stroke-width="2.7"/><path d="M213.32 1421.04L242.62 1391.74L271.92 1421.04L270.62 1422.34H214.62Z" fill="#FF8C00"/>
<path d="M194.68 1421.12L220.98 1394.82L247.28 1421.12L220.98 1447.42Z" fill="#fff" stroke="#FF8C00" stroke-width="2.7"/><path d="M191.68 1421.12L220.98 1391.82L250.28 1421.12L248.98 1422.42H192.98Z" fill="#FF8C00"/>
<path d="M173.3 1421.17L199.6 1394.87L225.9 1421.17L199.6 1447.47Z" fill="#fff" stroke="#FF8C00" stroke-width="2.7"/><path d="M170.3 1421.17L199.6 1391.87L228.9 1421.17L227.6 1422.47H171.6Z" fill="#FF8C00"/>
<path d="M152.18 1421.21L178.48 1394.91L204.78 1421.21L178.48 1447.51Z" fill="#fff" stroke="#FF8C00" stroke-width="2.7"/><path d="M149.18 1421.21L178.48 1391.91L207.78 1421.21L206.48 1422.51H150.48Z" fill="#FF8C00"/>
<path d="M131.28 1421.23L157.58 1394.93L183.88 1421.23L157.58 1447.53Z" fill="#fff" stroke="#FF8C00" stroke-width="2.7"/><path d="M128.28 1421.23L157.58 1391.93L186.88 1421.23L185.58 1422.53H129.58Z" fill="#FF8C00"/>
<path d="M110.57 1421.25L136.87 1394.95L163.17 1421.25L136.87 1447.55Z" fill="#fff" stroke="#FF8C00" stroke-width="2.7"/><path d="M107.57 1421.25L136.87 1391.95L166.17 1421.25L164.87 1422.55H108.87Z" fill="#FF8C00"/>
<path d="M89.95 1421.27L116.25 1394.97L142.55 1421.27L116.25 1447.57Z" fill="#fff" stroke="#FF8C00" stroke-width="2.7"/><path d="M86.95 1421.27L116.25 1391.97L145.55 1421.27L144.25 1422.57H88.25Z" fill="#FF8C00"/>
<path d="M69.33 1421.28L95.63 1394.98L121.93 1421.28L95.63 1447.58Z" fill="#fff" stroke="#FF8C00" stroke-width="2.7"/><path d="M66.33 1421.28L95.63 1391.98L124.93 1421.28L123.63 1422.58H67.63Z" fill="#FF8C00"/>
<polyline fill="none" stroke="#5B0E9F" stroke-width="14.2" stroke-linejoin="round" points="117.77,1413.4 139.77,1413.4 161.71,1413.4 183.9,1413.4 206.34,1413.4 229.05,1412 252.06,1412 275.38,1411.6 299.03,1411.6 323.02,1410.5 347.37,1409.7 372.1,1409.7 397.23,1408 422.76,1406.3 448.73,1403.4 475.14,1400.3 502.02,1392.8 529.37,1381.9 557.22,1368.2 585.59,1351.5 614.49,1331.4 643.94,1305.2 673.95,1278.9 704.55,1250 735.74,1219.4 767.56,1187.5 800,1152.8 833.1,1116.9 866.86,1079.8 901.31,1041 936.46,1000.6 972.33,955.6 1008.94,909 1046.3,858 1084.42,801.6 1123.34,740 1163.06,670 1203.6,592.5 1244.98,504.2 1287.21,407.8 1330.32,300 1374.32,180.3 1419.22,60.6 1465.5,-62"/>
<path d="M1392.92 60.6L1419.22 34.3L1445.52 60.6L1419.22 86.9Z" fill="#fff" stroke="#5B0E9F" stroke-width="2.7"/><path d="M1419.22 31.3L1448.52 60.6L1419.22 89.9L1417.92 88.6V32.6Z" fill="#5B0E9F"/>
<path d="M1348.02 180.3L1374.32 154L1400.62 180.3L1374.32 206.6Z" fill="#fff" stroke="#5B0E9F" stroke-width="2.7"/><path d="M1374.32 151L1403.62 180.3L1374.32 209.6L1373.02 208.3V152.3Z" fill="#5B0E9F"/>
<path d="M1304.02 300L1330.32 273.7L1356.62 300L1330.32 326.3Z" fill="#fff" stroke="#5B0E9F" stroke-width="2.7"/><path d="M1330.32 270.7L1359.62 300L1330.32 329.3L1329.02 328V272Z" fill="#5B0E9F"/>
<path d="M1260.91 407.8L1287.21 381.5L1313.51 407.8L1287.21 434.1Z" fill="#fff" stroke="#5B0E9F" stroke-width="2.7"/><path d="M1287.21 378.5L1316.51 407.8L1287.21 437.1L1285.91 435.8V379.8Z" fill="#5B0E9F"/>
<path d="M1218.68 504.2L1244.98 477.9L1271.28 504.2L1244.98 530.5Z" fill="#fff" stroke="#5B0E9F" stroke-width="2.7"/><path d="M1244.98 474.9L1274.28 504.2L1244.98 533.5L1243.68 532.2V476.2Z" fill="#5B0E9F"/>
<path d="M1177.3 592.5L1203.6 566.2L1229.9 592.5L1203.6 618.8Z" fill="#fff" stroke="#5B0E9F" stroke-width="2.7"/><path d="M1203.6 563.2L1232.9 592.5L1203.6 621.8L1202.3 620.5V564.5Z" fill="#5B0E9F"/>
<path d="M1136.76 670L1163.06 643.7L1189.36 670L1163.06 696.3Z" fill="#fff" stroke="#5B0E9F" stroke-width="2.7"/><path d="M1163.06 640.7L1192.36 670L1163.06 699.3L1161.76 698V642Z" fill="#5B0E9F"/>
<path d="M1097.04 740L1123.34 713.7L1149.64 740L1123.34 766.3Z" fill="#fff" stroke="#5B0E9F" stroke-width="2.7"/><path d="M1123.34 710.7L1152.64 740L1123.34 769.3L1122.04 768V712Z" fill="#5B0E9F"/>
<path d="M1058.12 801.6L1084.42 775.3L1110.72 801.6L1084.42 827.9Z" fill="#fff" stroke="#5B0E9F" stroke-width="2.7"/><path d="M1084.42 772.3L1113.72 801.6L1084.42 830.9L1083.12 829.6V773.6Z" fill="#5B0E9F"/>
<path d="M1020 858L1046.3 831.7L1072.6 858L1046.3 884.3Z" fill="#fff" stroke="#5B0E9F" stroke-width="2.7"/><path d="M1046.3 828.7L1075.6 858L1046.3 887.3L1045 886V830Z" fill="#5B0E9F"/>
<path d="M982.64 909L1008.94 882.7L1035.24 909L1008.94 935.3Z" fill="#fff" stroke="#5B0E9F" stroke-width="2.7"/><path d="M1008.94 879.7L1038.24 909L1008.94 938.3L1007.64 937V881Z" fill="#5B0E9F"/>
<path d="M946.03 955.6L972.33 929.3L998.63 955.6L972.33 981.9Z" fill="#fff" stroke="#5B0E9F" stroke-width="2.7"/><path d="M972.33 926.3L1001.63 955.6L972.33 984.9L971.03 983.6V927.6Z" fill="#5B0E9F"/>
<path d="M910.16 1000.6L936.46 974.3L962.76 1000.6L936.46 1026.9Z" fill="#fff" stroke="#5B0E9F" stroke-width="2.7"/><path d="M936.46 971.3L965.76 1000.6L936.46 1029.9L935.16 1028.6V972.6Z" fill="#5B0E9F"/>
<path d="M875.01 1041L901.31 1014.7L927.61 1041L901.31 1067.3Z" fill="#fff" stroke="#5B0E9F" stroke-width="2.7"/><path d="M901.31 1011.7L930.61 1041L901.31 1070.3L900.01 1069V1013Z" fill="#5B0E9F"/>
<path d="M840.56 1079.8L866.86 1053.5L893.16 1079.8L866.86 1106.1Z" fill="#fff" stroke="#5B0E9F" stroke-width="2.7"/><path d="M866.86 1050.5L896.16 1079.8L866.86 1109.1L865.56 1107.8V1051.8Z" fill="#5B0E9F"/>
<path d="M806.8 1116.9L833.1 1090.6L859.4 1116.9L833.1 1143.2Z" fill="#fff" stroke="#5B0E9F" stroke-width="2.7"/><path d="M833.1 1087.6L862.4 1116.9L833.1 1146.2L831.8 1144.9V1088.9Z" fill="#5B0E9F"/>
<path d="M773.7 1152.8L800 1126.5L826.3 1152.8L800 1179.1Z" fill="#fff" stroke="#5B0E9F" stroke-width="2.7"/><path d="M800 1123.5L829.3 1152.8L800 1182.1L798.7 1180.8V1124.8Z" fill="#5B0E9F"/>
<path d="M741.26 1187.5L767.56 1161.2L793.86 1187.5L767.56 1213.8Z" fill="#fff" stroke="#5B0E9F" stroke-width="2.7"/><path d="M767.56 1158.2L796.86 1187.5L767.56 1216.8L766.26 1215.5V1159.5Z" fill="#5B0E9F"/>
<path d="M709.44 1219.4L735.74 1193.1L762.04 1219.4L735.74 1245.7Z" fill="#fff" stroke="#5B0E9F" stroke-width="2.7"/><path d="M735.74 1190.1L765.04 1219.4L735.74 1248.7L734.44 1247.4V1191.4Z" fill="#5B0E9F"/>
<path d="M678.25 1250L704.55 1223.7L730.85 1250L704.55 1276.3Z" fill="#fff" stroke="#5B0E9F" stroke-width="2.7"/><path d="M704.55 1220.7L733.85 1250L704.55 1279.3L703.25 1278V1222Z" fill="#5B0E9F"/>
<path d="M647.65 1278.9L673.95 1252.6L700.25 1278.9L673.95 1305.2Z" fill="#fff" stroke="#5B0E9F" stroke-width="2.7"/><path d="M673.95 1249.6L703.25 1278.9L673.95 1308.2L672.65 1306.9V1250.9Z" fill="#5B0E9F"/>
<path d="M617.64 1305.2L643.94 1278.9L670.24 1305.2L643.94 1331.5Z" fill="#fff" stroke="#5B0E9F" stroke-width="2.7"/><path d="M643.94 1275.9L673.24 1305.2L643.94 1334.5L642.64 1333.2V1277.2Z" fill="#5B0E9F"/>
<path d="M588.19 1331.4L614.49 1305.1L640.79 1331.4L614.49 1357.7Z" fill="#fff" stroke="#5B0E9F" stroke-width="2.7"/><path d="M614.49 1302.1L643.79 1331.4L614.49 1360.7L613.19 1359.4V1303.4Z" fill="#5B0E9F"/>
<path d="M559.29 1351.5L585.59 1325.2L611.89 1351.5L585.59 1377.8Z" fill="#fff" stroke="#5B0E9F" stroke-width="2.7"/><path d="M585.59 1322.2L614.89 1351.5L585.59 1380.8L584.29 1379.5V1323.5Z" fill="#5B0E9F"/>
<path d="M530.92 1368.2L557.22 1341.9L583.52 1368.2L557.22 1394.5Z" fill="#fff" stroke="#5B0E9F" stroke-width="2.7"/><path d="M557.22 1338.9L586.52 1368.2L557.22 1397.5L555.92 1396.2V1340.2Z" fill="#5B0E9F"/>
<path d="M503.07 1381.9L529.37 1355.6L555.67 1381.9L529.37 1408.2Z" fill="#fff" stroke="#5B0E9F" stroke-width="2.7"/><path d="M529.37 1352.6L558.67 1381.9L529.37 1411.2L528.07 1409.9V1353.9Z" fill="#5B0E9F"/>
<path d="M475.72 1392.8L502.02 1366.5L528.32 1392.8L502.02 1419.1Z" fill="#fff" stroke="#5B0E9F" stroke-width="2.7"/><path d="M502.02 1363.5L531.32 1392.8L502.02 1422.1L500.72 1420.8V1364.8Z" fill="#5B0E9F"/>
<path d="M448.84 1400.3L475.14 1374L501.44 1400.3L475.14 1426.6Z" fill="#fff" stroke="#5B0E9F" stroke-width="2.7"/><path d="M475.14 1371L504.44 1400.3L475.14 1429.6L473.84 1428.3V1372.3Z" fill="#5B0E9F"/>
<path d="M422.43 1403.4L448.73 1377.1L475.03 1403.4L448.73 1429.7Z" fill="#fff" stroke="#5B0E9F" stroke-width="2.7"/><path d="M448.73 1374.1L478.03 1403.4L448.73 1432.7L447.43 1431.4V1375.4Z" fill="#5B0E9F"/>
<path d="M396.46 1406.3L422.76 1380L449.06 1406.3L422.76 1432.6Z" fill="#fff" stroke="#5B0E9F" stroke-width="2.7"/><path d="M422.76 1377L452.06 1406.3L422.76 1435.6L421.46 1434.3V1378.3Z" fill="#5B0E9F"/>
<path d="M370.93 1408L397.23 1381.7L423.53 1408L397.23 1434.3Z" fill="#fff" stroke="#5B0E9F" stroke-width="2.7"/><path d="M397.23 1378.7L426.53 1408L397.23 1437.3L395.93 1436V1380Z" fill="#5B0E9F"/>
<path d="M345.8 1409.7L372.1 1383.4L398.4 1409.7L372.1 1436Z" fill="#fff" stroke="#5B0E9F" stroke-width="2.7"/><path d="M372.1 1380.4L401.4 1409.7L372.1 1439L370.8 1437.7V1381.7Z" fill="#5B0E9F"/>
<path d="M321.07 1409.7L347.37 1383.4L373.67 1409.7L347.37 1436Z" fill="#fff" stroke="#5B0E9F" stroke-width="2.7"/><path d="M347.37 1380.4L376.67 1409.7L347.37 1439L346.07 1437.7V1381.7Z" fill="#5B0E9F"/>
<path d="M296.72 1410.5L323.02 1384.2L349.32 1410.5L323.02 1436.8Z" fill="#fff" stroke="#5B0E9F" stroke-width="2.7"/><path d="M323.02 1381.2L352.32 1410.5L323.02 1439.8L321.72 1438.5V1382.5Z" fill="#5B0E9F"/>
<path d="M272.73 1411.6L299.03 1385.3L325.33 1411.6L299.03 1437.9Z" fill="#fff" stroke="#5B0E9F" stroke-width="2.7"/><path d="M299.03 1382.3L328.33 1411.6L299.03 1440.9L297.73 1439.6V1383.6Z" fill="#5B0E9F"/>
<path d="M249.08 1411.6L275.38 1385.3L301.68 1411.6L275.38 1437.9Z" fill="#fff" stroke="#5B0E9F" stroke-width="2.7"/><path d="M275.38 1382.3L304.68 1411.6L275.38 1440.9L274.08 1439.6V1383.6Z" fill="#5B0E9F"/>
<path d="M225.76 1412L252.06 1385.7L278.36 1412L252.06 1438.3Z" fill="#fff" stroke="#5B0E9F" stroke-width="2.7"/><path d="M252.06 1382.7L281.36 1412L252.06 1441.3L250.76 1440V1384Z" fill="#5B0E9F"/>
<path d="M202.75 1412L229.05 1385.7L255.35 1412L229.05 1438.3Z" fill="#fff" stroke="#5B0E9F" stroke-width="2.7"/><path d="M229.05 1382.7L258.35 1412L229.05 1441.3L227.75 1440V1384Z" fill="#5B0E9F"/>
<path d="M180.04 1413.4L206.34 1387.1L232.64 1413.4L206.34 1439.7Z" fill="#fff" stroke="#5B0E9F" stroke-width="2.7"/><path d="M206.34 1384.1L235.64 1413.4L206.34 1442.7L205.04 1441.4V1385.4Z" fill="#5B0E9F"/>
<path d="M157.6 1413.4L183.9 1387.1L210.2 1413.4L183.9 1439.7Z" fill="#fff" stroke="#5B0E9F" stroke-width="2.7"/><path d="M183.9 1384.1L213.2 1413.4L183.9 1442.7L182.6 1441.4V1385.4Z" fill="#5B0E9F"/>
<path d="M135.41 1413.4L161.71 1387.1L188.01 1413.4L161.71 1439.7Z" fill="#fff" stroke="#5B0E9F" stroke-width="2.7"/><path d="M161.71 1384.1L191.01 1413.4L161.71 1442.7L160.41 1441.4V1385.4Z" fill="#5B0E9F"/>
<path d="M113.47 1413.4L139.77 1387.1L166.07 1413.4L139.77 1439.7Z" fill="#fff" stroke="#5B0E9F" stroke-width="2.7"/><path d="M139.77 1384.1L169.07 1413.4L139.77 1442.7L138.47 1441.4V1385.4Z" fill="#5B0E9F"/>
<path d="M91.47 1413.4L117.77 1387.1L144.07 1413.4L117.77 1439.7Z" fill="#fff" stroke="#5B0E9F" stroke-width="2.7"/><path d="M117.77 1384.1L147.07 1413.4L117.77 1442.7L116.47 1441.4V1385.4Z" fill="#5B0E9F"/>
</g>
<g id="legend" filter="url(#b1)">
<path d="M1517 1186.6H1635" stroke="#B85A00" stroke-width="14.6" stroke-linecap="round"/>
<path d="M1549.7 1186.6L1576 1160.3L1602.3 1186.6L1576 1212.9Z" fill="#fff" stroke="#B85A00" stroke-width="2.7"/><path d="M1546.7 1186.6L1576 1157.3L1605.3 1186.6L1604 1187.9H1548Z" fill="#B85A00"/>
<path d="M1517 1261.5H1635" stroke="#FF8C00" stroke-width="14.6" stroke-linecap="round"/>
<path d="M1549.7 1261.5L1576 1235.2L1602.3 1261.5L1576 1287.8Z" fill="#fff" stroke="#FF8C00" stroke-width="2.7"/><path d="M1546.7 1261.5L1576 1232.2L1605.3 1261.5L1604 1262.8H1548Z" fill="#FF8C00"/>
<path d="M1517 1336.4H1635" stroke="#5B0E9F" stroke-width="14.6" stroke-linecap="round"/>
<path d="M1549.7 1336.4L1576 1310.1L1602.3 1336.4L1576 1362.7Z" fill="#fff" stroke="#5B0E9F" stroke-width="2.7"/><path d="M1576 1307.1L1605.3 1336.4L1576 1365.7L1574.7 1364.4V1308.4Z" fill="#5B0E9F"/>
</g>
<g id="inset-labels" class="t" filter="url(#b3)">
<text x="766.5" y="545.32" font-size="24.5">1.06</text>
<text x="766.5" y="469.15" font-size="24.5">1.08</text>
<text x="766.5" y="392.98" font-size="24.5">1.10</text>
<text x="766.5" y="316.81" font-size="24.5">1.12</text>
<text x="766.5" y="240.64" font-size="24.5">1.14</text>
<text x="766.5" y="164.47" font-size="24.5">1.16</text>
<text x="766.5" y="88.3" font-size="24.5">1.18</text>
<text x="186.2" y="596" font-size="24.5" text-anchor="middle">20</text>
<text x="441.9" y="596" font-size="24.5" text-anchor="middle">15</text>
<text x="697.4" y="596" font-size="24.5" text-anchor="middle">10</text>
<text x="462" y="618.6" font-size="34.6" text-anchor="middle">Time (min)</text>
<text transform="translate(841.5 312.5) rotate(-90)" font-size="34.6" text-anchor="middle">Photon energy (eV)</text>
</g>
<g id="labels" class="t">
<text x="101.05" y="1487.6" font-size="59.2" textLength="71.9" lengthAdjust="spacingAndGlyphs">0.9</text>
<text x="390.88" y="1487.6" font-size="59.2" textLength="71.9" lengthAdjust="spacingAndGlyphs">1.0</text>
<text x="680.72" y="1487.6" font-size="59.2" textLength="71.9" lengthAdjust="spacingAndGlyphs">1.1</text>
<text x="970.55" y="1487.6" font-size="59.2" textLength="71.9" lengthAdjust="spacingAndGlyphs">1.2</text>
<text x="1260.38" y="1487.6" font-size="59.2" textLength="71.9" lengthAdjust="spacingAndGlyphs">1.3</text>
<text x="1550.22" y="1487.6" font-size="59.2" textLength="71.9" lengthAdjust="spacingAndGlyphs">1.4</text>
<text x="1840.05" y="1487.6" font-size="59.2" textLength="71.9" lengthAdjust="spacingAndGlyphs">1.5</text>
<text x="684.2" y="1558.2" font-size="81.6" textLength="659.5" lengthAdjust="spacingAndGlyphs">Photon energy (eV)</text>
<text transform="translate(117 750) rotate(-90)" font-size="73"><tspan x="-0.3" y="0.4" font-weight="400" font-size="82.5">(</tspan><tspan x="25.2" y="0" font-family="DejaVu Serif,Liberation Serif,serif" font-weight="400" font-size="75">α</tspan><tspan x="76.3" y="0.3">h</tspan><tspan x="117.4" y="0" font-family="DejaVu Serif,Liberation Serif,serif" font-weight="400" font-size="77.5">υ</tspan><tspan x="163.7" y="0.4" font-weight="400" font-size="82.5">)</tspan><tspan x="190.2" y="-33" font-size="59">2</tspan></text>
<text x="1666" y="1207.8" font-size="60.2" textLength="171.5" lengthAdjust="spacingAndGlyphs">10 min</text>
<text x="1666" y="1282.7" font-size="60.2" textLength="171.5" lengthAdjust="spacingAndGlyphs">15 min</text>
<text x="1666" y="1357.6" font-size="60.2" textLength="171.5" lengthAdjust="spacingAndGlyphs">20 min</text>
</g>
</svg>
</body></html>
